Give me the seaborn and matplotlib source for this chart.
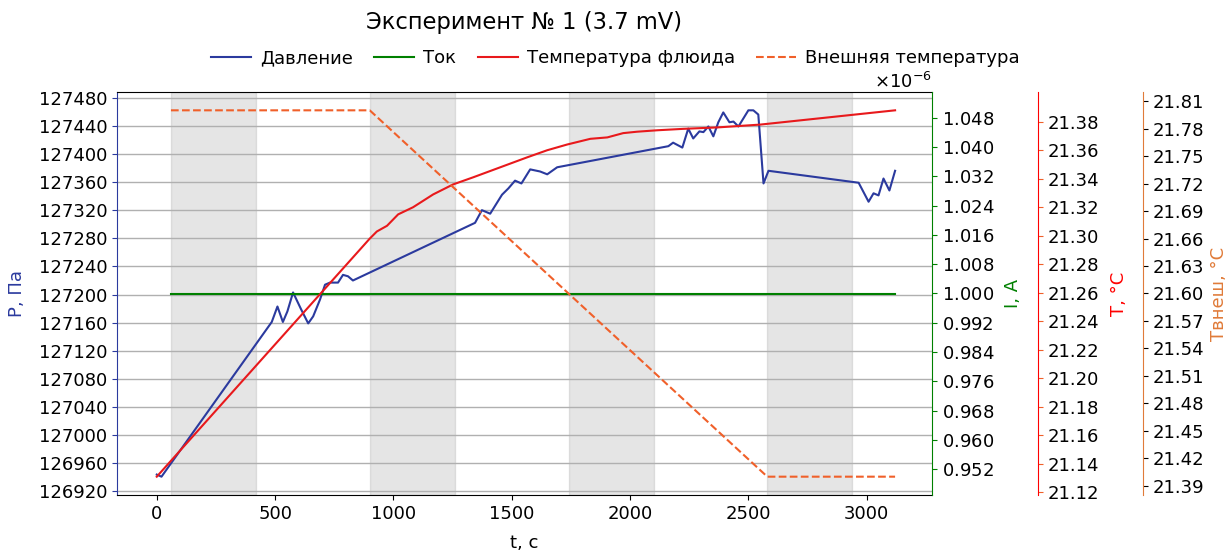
import matplotlib
matplotlib.use("Agg")
import matplotlib.pyplot as plt
import seaborn as sns
from matplotlib.ticker import MultipleLocator, FixedLocator, ScalarFormatter, FormatStrFormatter
import numpy as np

# Pressure (Pa) vs time (s)
t_p = [0, 20, 486, 510, 533, 552, 576, 610, 640, 661, 690, 711, 732, 766, 787, 808, 829,
       1345, 1374, 1409, 1459, 1486, 1514, 1541, 1578, 1620, 1650, 1692,
       2162, 2182, 2221, 2246, 2267, 2293, 2310, 2331, 2352, 2373, 2394, 2420, 2437, 2458,
       2500, 2521, 2542, 2564, 2585, 2966, 3008, 3029, 3050, 3071, 3096, 3120]
pressure = [126944, 126941, 127161, 127183, 127161, 127176, 127203, 127179, 127159, 127169,
            127193, 127214, 127217, 127217, 127228, 127226, 127220,
            127302, 127320, 127315, 127342, 127351, 127362, 127358, 127378, 127375, 127371, 127381,
            127411, 127416, 127409, 127436, 127422, 127432, 127431, 127439, 127425, 127445, 127459,
            127445, 127446, 127439, 127462, 127462, 127456, 127358, 127376,
            127359, 127332, 127344, 127341, 127365, 127348, 127376]

# Current (A)
t_i = [60, 3120]
current = [1e-6, 1e-6]

# Fluid temperature (C)
t_f = [0, 900, 930, 973, 1020, 1083, 1168, 1252, 1337, 1451, 1565, 1650, 1734, 1832,
       1904, 1971, 2030, 2115, 2225, 2369, 2551, 3120]
temp_fluid = [21.131, 21.298, 21.303, 21.307, 21.315, 21.320, 21.329, 21.336, 21.341, 21.348,
              21.355, 21.360, 21.364, 21.368, 21.369, 21.372, 21.373, 21.374, 21.375, 21.376,
              21.378, 21.388]

# External temperature (C)
t_ext = [60, 900, 2580, 3120]
temp_ext = [21.80, 21.80, 21.40, 21.40]

# shaded intervals
spans = [(60, 420), (900, 1260), (1740, 2100), (2580, 2940)]

legend_labels = ["Давление", "Ток", "Температура флюида", "Внешняя температура"]

c_p = "#2b3a9e"
c_i = "green"
c_f = "#e8191c"
c_e = "#f0602a"
c_e_axis = "#e07b39"

plt.rcParams["font.family"] = ["DejaVu Sans"]
plt.rcParams["font.size"] = 13

fig = plt.figure(figsize=(12.31, 5.52), dpi=100)
ax = fig.add_axes([117 / 1231, 1 - 495 / 552, 815 / 1231, 403 / 552])
ax2 = ax.twinx()
ax3 = ax.twinx()
ax4 = ax.twinx()

for a, b in spans:
    ax.axvspan(a, b, color="gray", alpha=0.2)
ax.yaxis.grid(True, color="#b0b0b0", linewidth=1.0)

sns.lineplot(x=t_p, y=pressure, ax=ax, color=c_p, linewidth=1.5)
sns.lineplot(x=t_i, y=current, ax=ax2, color=c_i, linewidth=1.5)
sns.lineplot(x=t_f, y=temp_fluid, ax=ax3, color=c_f, linewidth=1.5)
sns.lineplot(x=t_ext, y=temp_ext, ax=ax4, color=c_e, linewidth=1.5, linestyle="--")

ax.set_xlim(-168, 3276)

ax3.spines["right"].set_position(("axes", 1.13))
ax4.spines["right"].set_position(("axes", 1.259))
for a in (ax2, ax3, ax4):
    for s in ("left", "top", "bottom"):
        a.spines[s].set_visible(False)
ax.spines["right"].set_visible(False)

ax.spines["left"].set_color(c_p)
ax2.spines["right"].set_color(c_i)
ax3.spines["right"].set_color("red")
ax4.spines["right"].set_color(c_e_axis)

ax.tick_params(axis="y", color=c_p)
ax2.tick_params(axis="y", color=c_i)
ax3.tick_params(axis="y", color=c_e)

# ticks
ax.yaxis.set_major_locator(MultipleLocator(40))
ax2.yaxis.set_major_locator(MultipleLocator(0.008e-6))
fmt = ScalarFormatter(useMathText=True)
ax2.yaxis.set_major_formatter(fmt)
ax3.yaxis.set_major_locator(FixedLocator(np.arange(21.12, 21.39, 0.02)))
ax3.yaxis.set_major_formatter(FormatStrFormatter("%.2f"))
ax4.yaxis.set_major_locator(FixedLocator(np.arange(21.39, 21.82, 0.03)))
ax4.yaxis.set_major_formatter(FormatStrFormatter("%.2f"))

ax.set_xlabel("t, с", labelpad=8)
ax.set_ylabel("P, Па", color=c_p, labelpad=9)
ax2.set_ylabel("I, A", color=c_i, labelpad=7)
ax3.set_ylabel("T, °C", color="red", labelpad=8)
ax4.set_ylabel("Твнеш, °С", color=c_e_axis, labelpad=4)

ax.set_title("Эксперимент № 1 (3.7 mV)", fontsize=16.3, pad=45)

handles = [ax.lines[0], ax2.lines[0], ax3.lines[0], ax4.lines[0]]
fig.legend(handles, legend_labels, loc="center", bbox_to_anchor=(0.5, 1 - 58 / 552),
           ncol=4, frameon=False, handlelength=2.2, handletextpad=0.5, columnspacing=1.2)

fig.savefig("out.png", dpi=100)
